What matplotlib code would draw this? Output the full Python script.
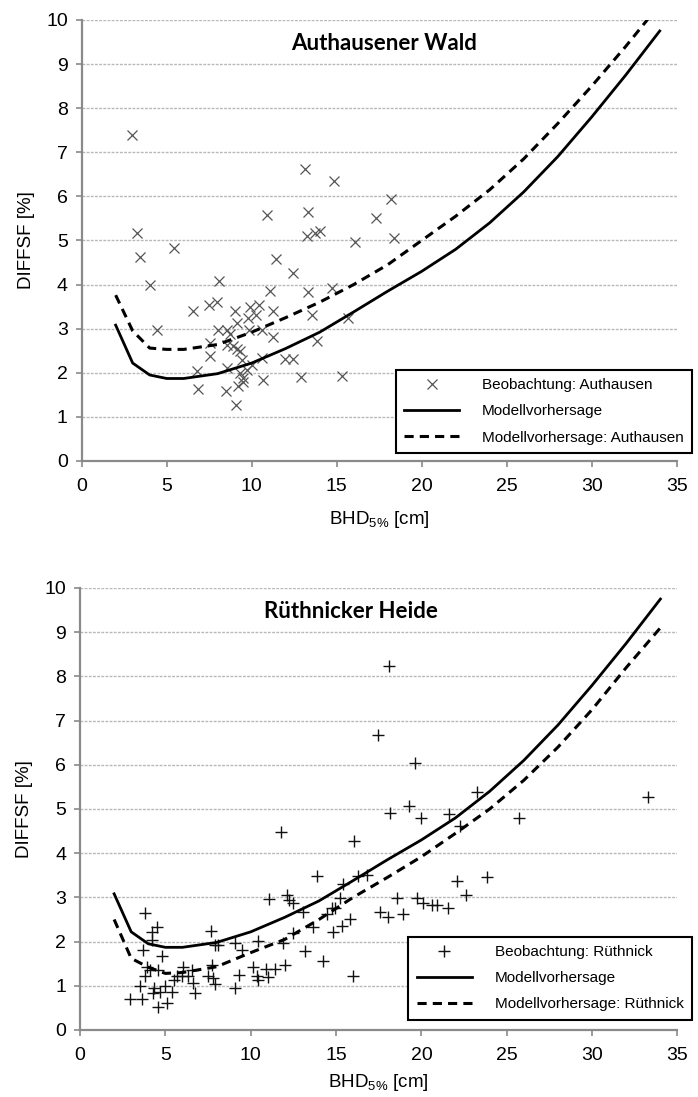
import matplotlib
matplotlib.use("Agg")
import matplotlib.pyplot as plt

plt.rcParams["font.family"] = ["Liberation Sans", "DejaVu Sans"]
plt.rcParams["mathtext.default"] = "regular"

# Beobachtungen Authausener Wald
auth_x = [2.94, 3.24, 3.43, 4.02, 4.41, 5.43, 6.57, 6.76, 6.86, 7.49, 7.55, 7.55, 7.98, 8.10,
          8.04, 8.53, 8.53, 8.49, 8.53, 8.73, 9.02, 9.12, 8.92, 9.12, 9.31, 9.06, 9.22, 9.31,
          9.41, 9.47, 9.51, 9.80, 9.90, 9.86, 9.71, 10.0, 10.25, 10.45, 10.59, 10.59, 10.69,
          10.88, 11.08, 11.27, 11.27, 11.43, 11.96, 12.41, 12.45, 12.90, 13.14, 13.33, 13.24,
          13.33, 13.53, 13.73, 14.02, 13.86, 14.84, 14.71, 15.29, 15.69, 16.08, 17.29, 18.20, 18.39]
auth_y = [7.39, 5.16, 4.63, 4.00, 2.97, 4.84, 3.41, 2.03, 1.63, 3.54, 2.67, 2.37, 3.61, 4.09,
          2.97, 2.97, 2.63, 1.59, 2.10, 2.89, 3.41, 3.12, 2.61, 2.55, 2.50, 1.28, 1.70, 1.99,
          2.29, 1.87, 1.80, 3.24, 3.48, 2.97, 2.06, 2.18, 3.31, 3.54, 2.97, 2.33, 1.84,
          5.58, 3.86, 3.41, 2.80, 4.58, 2.31, 2.31, 4.26, 1.91, 6.62, 5.64, 5.09,
          3.82, 3.31, 5.16, 5.22, 2.73, 6.35, 3.92, 1.93, 3.24, 4.97, 5.50, 5.93, 5.06]

# Beobachtungen Rüthnicker Heide
rueth_x = [2.93, 3.61, 3.52, 3.67, 3.81, 3.83, 3.91, 4.20, 4.20, 4.10, 4.26, 4.34, 4.49, 4.55,
           4.69, 4.79, 4.59, 4.98, 5.08, 5.37, 5.53, 5.66, 6.05, 5.96, 6.35, 6.54, 6.60, 6.74,
           7.52, 7.66, 7.71, 7.81, 7.91, 7.91, 8.11, 9.08, 9.08, 9.34, 9.47, 10.16, 10.35, 10.45,
           10.45, 10.88, 11.00, 11.09, 11.43, 11.78, 11.91, 12.01, 12.15, 12.27, 12.50, 12.50,
           13.09, 13.18, 13.63, 13.91, 14.22, 14.45, 14.75, 14.94, 14.84, 15.33, 15.23, 15.43,
           15.82, 16.02, 16.05, 16.31, 16.80, 17.48, 17.58, 18.07, 18.16, 18.59, 18.91, 19.30,
           19.63, 19.73, 18.12, 20.0, 21.6, 22.26, 23.27, 25.73, 33.3, 22.07, 23.82, 20.07,
           20.6, 20.9, 21.58, 22.6]
rueth_y = [0.69, 0.69, 0.99, 1.81, 2.64, 1.22, 1.43, 2.03, 2.22, 1.36, 0.83, 0.94, 2.32, 0.51,
           0.86, 1.67, 1.36, 0.99, 0.60, 0.86, 1.13, 1.21, 1.42, 1.21, 1.21, 1.36, 1.06, 0.83,
           1.22, 2.25, 1.47, 1.17, 1.04, 1.92, 1.92, 1.96, 0.96, 1.24, 1.81, 1.42, 1.21, 1.12,
           2.01, 1.39, 1.19, 2.96, 1.37, 4.47, 1.97, 1.48, 3.05, 2.94, 2.88, 2.19,
           2.68, 1.79, 2.34, 3.48, 1.57, 2.62, 2.75, 2.75, 2.22, 2.35, 2.98, 3.30,
           2.52, 1.22, 4.28, 3.48, 3.50, 6.67, 2.68, 2.56, 4.91, 2.98, 2.62, 5.06,
           6.05, 2.98, 8.24, 4.80, 4.88, 4.62, 5.39, 4.80, 5.26, 3.36, 3.45, 2.87,
           2.83, 2.83, 2.75, 3.05]

# Modellkurven
model_x = [2, 3, 4, 5, 6, 8, 10, 12, 14, 16, 18, 20, 22, 24, 26, 28, 30, 32, 34]
model_y = [3.08, 2.22, 1.95, 1.87, 1.87, 1.98, 2.22, 2.55, 2.92, 3.38, 3.85, 4.3, 4.8, 5.4,
           6.1, 6.9, 7.8, 8.75, 9.75]
auth_model_y = [3.76, 2.95, 2.56, 2.53, 2.53, 2.64, 2.92, 3.25, 3.6, 4.0, 4.45, 5.0, 5.55,
                6.15, 6.85, 7.65, 8.5, 9.4, 10.35]
rueth_model_y = [2.5, 1.62, 1.42, 1.28, 1.3, 1.43, 1.75, 2.05, 2.5, 3.0, 3.45, 3.92, 4.45,
                 5.0, 5.65, 6.4, 7.25, 8.2, 9.1]

xticks = [0, 5, 10, 15, 20, 25, 30, 35]
yticks = list(range(0, 11))

fig = plt.figure(figsize=(6.98, 10.97), dpi=100)
ax1 = fig.add_axes([0.117, 0.5798, 0.8525, 0.402])
ax2 = fig.add_axes([0.1146, 0.0611, 0.856, 0.4029])


def style_axes(ax, xpad):
    ax.set_xlim(0, 35)
    ax.set_ylim(0, 10)
    ax.set_xticks(xticks)
    ax.set_yticks(yticks)
    ax.grid(axis="y", color="#b8b8b8", linestyle=(0, (2, 1)), linewidth=1.0)
    ax.set_axisbelow(True)
    for s in ["top", "right"]:
        ax.spines[s].set_visible(False)
    for s in ["left", "bottom"]:
        ax.spines[s].set_color("#8a8a8a")
        ax.spines[s].set_linewidth(1.6)
    ax.tick_params(direction="out", length=4, width=1.2, color="#8a8a8a", labelsize=14)
    ax.tick_params(axis="x", pad=8)
    ax.tick_params(axis="y", pad=6)
    ax.set_xlabel("BHD$_{5\\%}$ [cm]", fontsize=13.5, labelpad=xpad)
    ax.set_ylabel("DIFFSF [%]", fontsize=13.5, labelpad=8)


def style_legend(ax, anchor):
    leg = ax.legend(loc="lower right", bbox_to_anchor=anchor, borderaxespad=0,
                    fontsize=11, frameon=True, fancybox=False, handlelength=3.6,
                    labelspacing=0.8, borderpad=0.55, handletextpad=1.5)
    leg.get_frame().set_edgecolor("black")
    leg.get_frame().set_linewidth(1.5)
    leg.get_frame().set_alpha(1)
    return leg


# oben: Authausener Wald
style_axes(ax1, 10)
ax1.plot(auth_x, auth_y, linestyle="none", marker="x", markersize=7, mew=0.9,
         color="#555555", label="Beobachtung: Authausen", clip_on=False)
ax1.plot(model_x, model_y, color="black", lw=2.0, label="Modellvorhersage")
ax1.plot(model_x, auth_model_y, color="black", lw=2.2, linestyle=(0, (3, 2)),
         label="Modellvorhersage: Authausen")
ax1.text(17.8, 9.46, "Authausener Wald", ha="center", va="center", fontsize=16,
         fontweight="bold", family=["Lato", "DejaVu Sans"])
style_legend(ax1, (1.026, 0.018))

# unten: Rüthnicker Heide
style_axes(ax2, 6)
ax2.plot(rueth_x, rueth_y, linestyle="none", marker="+", markersize=8, mew=1.0,
         color="#111111", label="Beobachtung: Rüthnick", clip_on=False)
ax2.plot(model_x, model_y, color="black", lw=2.0, label="Modellvorhersage")
ax2.plot(model_x, rueth_model_y, color="black", lw=2.2, linestyle=(0, (3, 2)),
         label="Modellvorhersage: Rüthnick")
ax2.text(15.9, 9.46, "Rüthnicker Heide", ha="center", va="center", fontsize=16,
         fontweight="bold", family=["Lato", "DejaVu Sans"])
style_legend(ax2, (1.024, 0.023))

fig.savefig("out.png", dpi=100)
